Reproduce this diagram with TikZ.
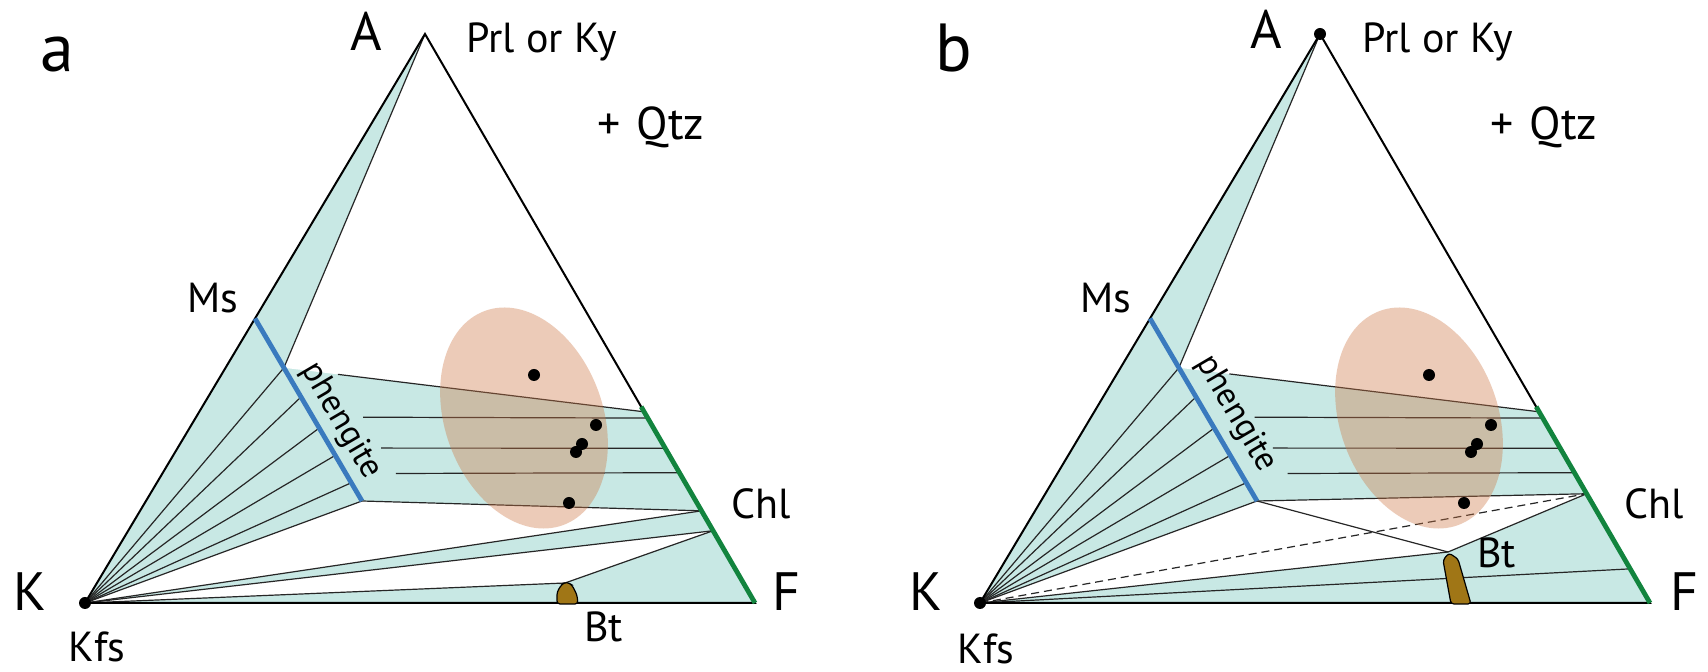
\documentclass[tikz,border=0pt]{standalone}
\usepackage{fontspec}
\setmainfont{PT Sans}
\usetikzlibrary{calc}
\definecolor{fieldfill}{HTML}{C8E8E4}
\definecolor{phengline}{HTML}{3A7ABE}
\definecolor{chlline}{HTML}{12843E}
\definecolor{btfill}{HTML}{A07616}
\definecolor{cloudfill}{HTML}{CE7846}
\tikzset{
  rim/.style={draw=black, line width=1pt, line join=miter},
  tie/.style={draw=black!85, line width=0.6pt},
  twofield/.style={fill=fieldfill},
  threefield/.style={fill=white},
  phengite/.style={draw=phengline, line width=2.4pt},
  chlorite/.style={draw=chlline, line width=2.4pt},
  bio/.style={fill=btfill, draw=black, line width=0.6pt, rounded corners=1.5pt},
  cloud/.style={fill=cloudfill, fill opacity=0.38},
  grain/.style={fill=black},
  altie/.style={tie, dash pattern=on 4pt off 2.5pt},
  lab/.style={font=\fontsize{21}{21}\selectfont, inner sep=0pt, anchor=base west},
  qtz/.style={font=\fontsize{23}{23}\selectfont, inner sep=0pt, anchor=base west},
  corner/.style={font=\fontsize{27}{27}\selectfont, inner sep=0pt, anchor=base west},
  panel/.style={font=\fontsize{34}{34}\selectfont, inner sep=0pt, anchor=base west},
  phen/.style={font=\fontsize{17}{17}\selectfont, inner sep=0pt},
}
\begin{document}
\begin{tikzpicture}[x=0.5pt,y=-0.5pt]
\useasboundingbox (0,0) rectangle (1708,672);

% ---- Panel a ---------------------------------------------------------------
\coordinate (aK) at (85,603);
\coordinate (aA) at (425,34);
\coordinate (aF) at (755,603);
\coordinate (aMs) at ($(aK)!0.5!(aA)$);
\coordinate (aPb) at (362,501);
\coordinate (aP1) at ($(aMs)!0.27!(aPb)$);
\coordinate (aCt) at ($(aA)!0.664!(aF)$);
\coordinate (aC1) at ($(aA)!0.838!(aF)$);
\coordinate (aC2) at ($(aA)!0.873!(aF)$);
\coordinate (aBt) at (565,583);

\fill[twofield] (aK) -- (aA) -- (aF) -- cycle;
\fill[threefield] (aA) -- (aP1) -- (aCt) -- cycle;
\fill[threefield] (aK) -- (aPb) -- (aC1) -- cycle;
\fill[threefield] (aK) -- (aC2) -- (aBt) -- cycle;

\draw[tie] (aA) -- (aP1);
\foreach \t in {0.27,0.43,0.6,0.75,0.9}
  \draw[tie] (aK) -- ($(aMs)!\t!(aPb)$);
\draw[tie] (aK) -- (aPb);
\foreach \t/\s in {0.27/0.664,0.54/0.675,0.71/0.728,0.85/0.771} {
  \coordinate (ph) at ($(aMs)!\t!(aPb)$);
  \coordinate (ch) at ($(aA)!\s!(aF)$);
  \draw[tie] ($(ph)!0.15!(ch)$) -- (ch);
}
\draw[tie] (aPb) -- (aC1);
\draw[tie] (aK) -- (aC1);
\draw[tie] (aK) -- (aC2);
\draw[tie] (aC2) -- (aBt);
\draw[tie] (aK) -- (aBt);

\fill[cloud, rotate around={20:(524,418)}] (524,418) ellipse [x radius=39.5pt, y radius=57pt];

\draw[rim] (aK) -- (aA) -- (aF) -- cycle;
\draw[phengite] (aMs) -- (aPb);
\draw[chlorite] ($(aA)!0.655!(aF)$) -- (aF);
\filldraw[bio] (557,604) -- (557,592) -- (562,584) -- (567,582) -- (572,585)
  -- (577,595) -- (578,604) -- cycle;

\foreach \p in {(534,375),(596,425),(582,444),(576,452),(569,503)}
  \fill[grain] \p circle[radius=3pt];
\fill[grain] (aK) circle[radius=3pt];

\node[panel] (alet) at (40,72) {a};
\node[corner] (acA) at (350,51) {A};
\node[lab] (aprl) at (466,53) {Prl or Ky};
\node[qtz] (aqtz) at (597,140) {+\kern2pt\ Qtz};
\node[lab] (ams) at (187,313) {Ms};
\node[lab] (achl) at (731,519) {Chl};
\node[corner] (acK) at (13,611) {K};
\node[corner] (acF) at (772,611) {F};
\node[lab] (akfs) at (68,662) {Kfs};
\node[lab] (abt) at (584,642) {Bt};
\node[phen, rotate=-59.6] (aphen) at (341,421) {phengite};

% ---- Panel b ---------------------------------------------------------------
\begin{scope}[xshift=447.5pt]
\coordinate (bK) at (85,603);
\coordinate (bA) at (425,34);
\coordinate (bF) at (755,603);
\coordinate (bMs) at ($(bK)!0.5!(bA)$);
\coordinate (bPb) at (362,501);
\coordinate (bP1) at ($(bMs)!0.27!(bPb)$);
\coordinate (bCt) at ($(bA)!0.664!(bF)$);
\coordinate (bCb) at ($(bA)!0.808!(bF)$);
\coordinate (bGe) at ($(bA)!0.94!(bF)$);
\coordinate (bBt) at (553,552);

\fill[twofield] (bK) -- (bA) -- (bF) -- cycle;
\fill[threefield] (bA) -- (bP1) -- (bCt) -- cycle;
\fill[threefield] (bK) -- (bPb) -- (bCb) -- (bBt) -- cycle;

\draw[tie] (bA) -- (bP1);
\foreach \t in {0.27,0.43,0.6,0.75,0.9}
  \draw[tie] (bK) -- ($(bMs)!\t!(bPb)$);
\draw[tie] (bK) -- (bPb);
\foreach \t/\s in {0.27/0.664,0.54/0.675,0.71/0.728,0.85/0.771} {
  \coordinate (ph) at ($(bMs)!\t!(bPb)$);
  \coordinate (ch) at ($(bA)!\s!(bF)$);
  \draw[tie] ($(ph)!0.14!(ch)$) -- (ch);
}
\draw[tie] (bPb) -- (bCb);
\draw[tie] (bPb) -- (bBt);
\draw[tie] (bBt) -- (bCb);
\draw[tie] (bK) -- (bBt);
\draw[tie] (bK) -- (bGe);
\draw[altie] (bK) -- (bCb);

\fill[cloud, rotate around={20:(524,418)}] (524,418) ellipse [x radius=39.5pt, y radius=57pt];

\draw[rim] (bK) -- (bA) -- (bF) -- cycle;
\draw[phengite] (bMs) -- (bPb);
\draw[chlorite] ($(bA)!0.655!(bF)$) -- (bF);
\filldraw[bio] (554,553) -- (563,559) -- (576,604) -- (556,604) -- (548,560) -- cycle;

\foreach \p in {(534,375),(596,425),(582,444),(576,452),(569,503)}
  \fill[grain] \p circle[radius=3pt];
\fill[grain] (bK) circle[radius=3pt];
\fill[grain] (bA) circle[radius=3pt];

\node[panel] (blet) at (40,72) {b};
\node[corner] (bcA) at (355,49) {A};
\node[lab] (bprl) at (467,53) {Prl or Ky};
\node[qtz] (bqtz) at (595,140) {+\kern2pt\ Qtz};
\node[lab] (bms) at (185,313) {Ms};
\node[lab] (bchl) at (729,519) {Chl};
\node[corner] (bcK) at (14,611) {K};
\node[corner] (bcF) at (775,611) {F};
\node[lab] (bkfs) at (62,664) {Kfs};
\node[lab] (bbt) at (582,568) {Bt};
\node[phen, rotate=-59.6] (bphen) at (341,414) {phengite};
\end{scope}

\end{tikzpicture}
\end{document}
